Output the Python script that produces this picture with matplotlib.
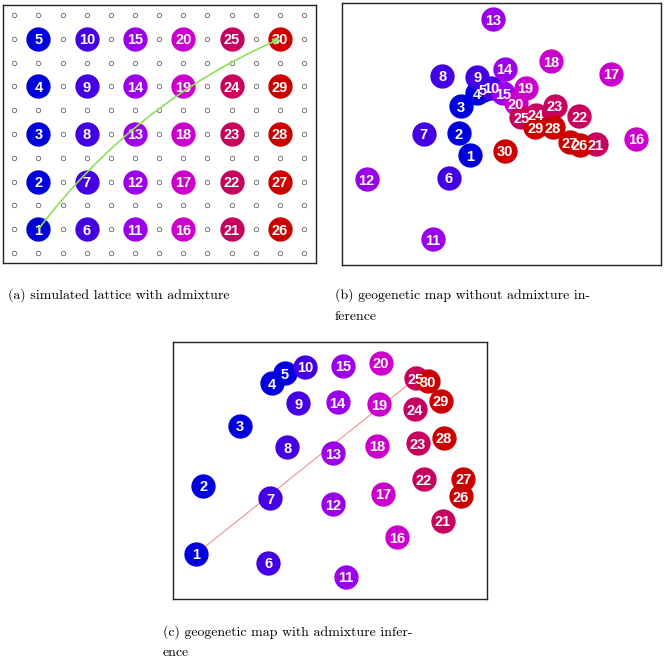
import numpy as np
import matplotlib
matplotlib.use('Agg')
import matplotlib.pyplot as plt

# Node labels and group colours (blue -> red across the lattice columns)
labels = list(range(1, 31))
group_colors = ['#0000DD', '#4400E2', '#9A00EA', '#CC00CC', '#C8005E', '#CC0000']

# (a) lattice: 13 x 11 grid, sampled nodes on odd columns / odd rows
n_cols, n_rows = 13, 11
a_x = [1 + 2 * ((i - 1) // 5) for i in labels]
a_y = [1 + 2 * ((i - 1) % 5) for i in labels]

# (b) geogenetic map without admixture inference (0-100 box units)
b_x = [40.1, 36.6, 37.2, 42.2, 44.2, 33.5, 25.6, 31.4, 42.5, 46.9,
       28.5, 7.7, 47.4, 51.0, 50.5, 92.2, 84.3, 65.7, 57.6, 54.5,
       79.6, 74.4, 66.7, 60.8, 56.3, 74.6, 71.4, 66.2, 60.7, 51.0]
b_y = [41.9, 50.4, 60.6, 65.7, 67.0, 33.4, 50.2, 72.4, 72.0, 67.7,
       9.8, 32.8, 94.0, 75.0, 65.7, 48.3, 73.1, 77.9, 67.7, 61.9,
       46.1, 56.8, 60.9, 57.4, 56.5, 46.0, 47.0, 52.6, 52.6, 43.6]

# (c) geogenetic map with admixture inference
c_x = [7.2, 9.6, 21.2, 31.3, 35.6, 30.3, 30.8, 36.3, 39.8, 41.9,
       54.9, 51.0, 51.0, 52.3, 54.1, 71.3, 66.9, 64.8, 65.4, 66.0,
       85.8, 79.8, 77.8, 77.0, 77.3, 91.6, 92.4, 86.2, 85.2, 81.2]
c_y = [17.6, 44.1, 67.4, 83.8, 87.7, 14.2, 39.2, 59.0, 76.1, 90.3,
       8.8, 36.9, 56.7, 76.5, 90.6, 24.1, 40.9, 59.6, 75.8, 91.8,
       30.5, 46.7, 60.5, 73.7, 85.8, 40.1, 46.8, 62.7, 77.1, 84.7]

plt.rcParams['font.family'] = ['cmr10', 'DejaVu Serif']

fig = plt.figure(figsize=(6.71, 6.61), dpi=100)


def draw_nodes(ax, xs, ys):
    # circles first, then all labels on top
    for i, (x, y) in enumerate(zip(xs, ys)):
        col = group_colors[i // 5]
        ax.plot(x, y, 'o', ms=16.5, color=col, mec=col, zorder=3)
    for i, (x, y) in enumerate(zip(xs, ys)):
        ax.text(x, y, str(labels[i]), color='white', fontsize=10.5,
                fontweight='bold', family='Liberation Sans',
                ha='center', va='center_baseline', zorder=4)


def frame(ax):
    ax.set_xticks([])
    ax.set_yticks([])
    for s in ax.spines.values():
        s.set_linewidth(1.0)
        s.set_color('#222222')


# (a) simulated lattice
ax_a = fig.add_axes([0.0045, 0.602, 0.4665, 0.390])
gx, gy = np.meshgrid(np.arange(n_cols), np.arange(n_rows))
ax_a.plot(gx.ravel(), gy.ravel(), 'o', ms=3.2, mfc='white', mec='#666666',
          mew=0.6, ls='none', zorder=1)
draw_nodes(ax_a, a_x, a_y)
ax_a.annotate('', xy=(a_x[29], a_y[29]), xytext=(a_x[0], a_y[0]),
              arrowprops=dict(arrowstyle='-|>', color='#8EE05A', lw=1.2,
                              connectionstyle='arc3,rad=-0.13',
                              mutation_scale=9, shrinkA=0, shrinkB=0),
              zorder=5)
ax_a.set_xlim(-0.47, 12.5)
ax_a.set_ylim(-0.43, 10.41)
frame(ax_a)

# (b) without admixture
ax_b = fig.add_axes([0.5097, 0.599, 0.475, 0.396])
draw_nodes(ax_b, b_x, b_y)
ax_b.set_xlim(0, 100)
ax_b.set_ylim(0, 100)
frame(ax_b)

# (c) with admixture
ax_c = fig.add_axes([0.2583, 0.0933, 0.468, 0.3897])
ax_c.plot([c_x[0], c_x[24]], [c_y[0], c_y[24]], color='#F08080', lw=0.7,
          zorder=2)
draw_nodes(ax_c, c_x, c_y)
ax_c.set_xlim(0, 100)
ax_c.set_ylim(0, 100)
frame(ax_c)

# captions
cap = dict(fontsize=10, ha='left', va='center')
fig.text(8 / 671, 1 - 295 / 661, '(a) simulated lattice with admixture', **cap)
fig.text(335 / 671, 1 - 295 / 661,
         '(b) geogenetic map without admixture in-', **cap)
fig.text(335 / 671, 1 - 317 / 661, 'ference', **cap)
fig.text(163 / 671, 1 - 632 / 661,
         '(c) geogenetic map with admixture infer-', **cap)
fig.text(163 / 671, 1 - 653 / 661, 'ence', **cap)

fig.savefig('out.png', dpi=100)
